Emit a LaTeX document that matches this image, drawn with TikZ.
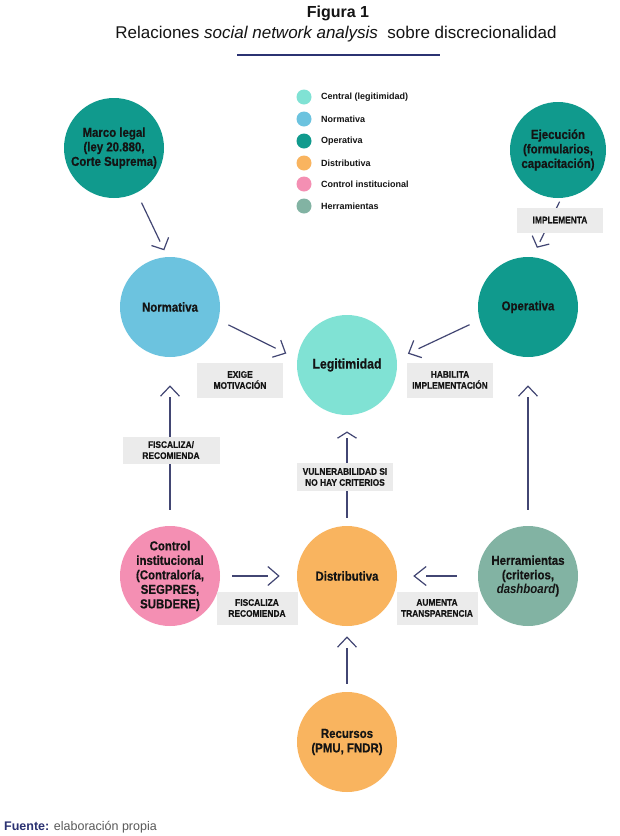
\documentclass[tikz,border=0pt]{standalone}
\usepackage{fontspec}
\setmainfont{Liberation Sans}
\newfontfamily\condf[FakeStretch=0.88, BoldFeatures={FakeBold=0.5}]{Liberation Sans}
\usetikzlibrary{decorations.markings}
\definecolor{linec}{RGB}{66,70,115}
\definecolor{navyc}{RGB}{43,50,114}
\definecolor{cLeg}{RGB}{128,226,212}
\definecolor{cNorm}{RGB}{108,195,223}
\definecolor{cTeal}{RGB}{16,154,141}
\definecolor{cOrange}{RGB}{249,180,95}
\definecolor{cPink}{RGB}{244,143,179}
\definecolor{cHerr}{RGB}{130,179,163}
\definecolor{boxgray}{RGB}{235,235,235}
\definecolor{txtc}{RGB}{20,20,20}
\tikzset{
  circ/.style={circle, minimum size=100pt, inner sep=0pt, align=center, text=txtc,
    font=\condf\bfseries\fontsize{13}{14.5}\selectfont},
  lbl/.style={fill=boxgray, inner sep=0pt, align=center, text=txtc,
    font=\condf\bfseries\fontsize{9.5}{11}\selectfont},
  legdot/.style={circle, minimum size=15pt, inner sep=0pt},
  legtxt/.style={anchor=west, inner sep=0pt, text=txtc, font=\bfseries\fontsize{9}{10}\selectfont},
  conn/.style n args={4}{draw=linec, line width=1.2pt, shorten <=#1, shorten >=#3,
    postaction={decorate, decoration={markings, mark=at position 1 with {
      \draw[linec, line width=1.2pt, shorten <=0pt, shorten >=0pt, line join=miter]
        (-#2-#4, 9.5pt) -- (-#2, 0pt) -- (-#2-#4, -9.5pt);}}}},
}
\begin{document}
\begin{tikzpicture}[x=1pt,y=-1pt]
\useasboundingbox (0,0) rectangle (619,836);
\fill[white] (0,0) rectangle (619,836);

% title
\node[font=\bfseries\fontsize{16}{18}\selectfont, text=txtc] (title) at (338,13) {Figura 1};
\node[font=\fontsize{17}{19}\selectfont, text=txtc] (subtitle) at (336,34) {Relaciones \textit{social network analysis}\ \ sobre discrecionalidad};
\draw[navyc, line width=2pt] (237,55) -- (440,55);

% legend
\node[legdot, fill=cLeg] (d1) at (304,97) {};
\node[legdot, fill=cNorm] (d2) at (304,119) {};
\node[legdot, fill=cTeal] (d3) at (304,141) {};
\node[legdot, fill=cOrange] (d4) at (304,163) {};
\node[legdot, fill=cPink] (d5) at (304,184) {};
\node[legdot, fill=cHerr] (d6) at (304,206) {};
\node[legtxt] (t1) at (321,97) {Central (legitimidad)};
\node[legtxt] (t2) at (321,119) {Normativa};
\node[legtxt] (t3) at (321,141) {Operativa};
\node[legtxt] (t4) at (321,163) {Distributiva};
\node[legtxt] (t5) at (321,184) {Control institucional};
\node[legtxt] (t6) at (321,206) {Herramientas};

% circles
\node[circ, fill=cTeal] (marco) at (114,148) {Marco legal\\(ley 20.880,\\Corte Suprema)};
\node[circ, fill=cTeal, minimum size=96pt] (ejec) at (558,150) {Ejecución\\(formularios,\\capacitación)};
\node[circ, fill=cNorm] (norm) at (170,307) {Normativa};
\node[circ, fill=cTeal] (oper) at (528,307) {Operativa};
\node[circ, fill=cLeg, font=\condf\bfseries\fontsize{14}{15}\selectfont] (legit) at (347,365) {Legitimidad};
\node[circ, fill=cPink] (ctrl) at (170,576) {Control\\institucional\\(Contraloría,\\SEGPRES,\\SUBDERE)};
\node[circ, fill=cOrange] (distr) at (347,576) {Distributiva};
\node[circ, fill=cHerr] (herr) at (528,576) {Herramientas\\(criterios,\\\textit{dashboard})};
\node[circ, fill=cOrange] (recur) at (347,742) {Recursos\\(PMU, FNDR)};

% connectors
\draw[conn={11pt}{8pt}{17pt}{9pt}] (marco.-63) -- (norm.93);
\draw[conn={4pt}{11pt}{17pt}{8pt}] (ejec.-86) -- (oper.85);
\draw[conn={11pt}{13pt}{24pt}{10pt}] (norm.-15) -- (legit.173);
\draw[conn={11pt}{13pt}{24pt}{10pt}] (oper.195) -- (legit.7);
\draw[conn={16pt}{29pt}{40pt}{10pt}] (ctrl) -- (norm);
\draw[conn={16pt}{29pt}{40pt}{10pt}] (herr) -- (oper);
\draw[conn={8pt}{17pt}{23pt}{6pt}] (distr) -- (legit);
\draw[conn={8pt}{11pt}{22pt}{10pt}] (recur) -- (distr);
\draw[conn={12pt}{18pt}{29pt}{11pt}] (ctrl) -- (distr);
\draw[conn={21pt}{17pt}{29pt}{12pt}] (herr) -- (distr);

% labels
\node[lbl, minimum width=86pt, minimum height=25pt] (limpl) at (560,220) {IMPLEMENTA};
\node[lbl, minimum width=86pt, minimum height=35pt] (lexige) at (240,380) {EXIGE\\MOTIVACIÓN};
\node[lbl, minimum width=86pt, minimum height=35pt] (lhab) at (450,380) {HABILITA\\IMPLEMENTACIÓN};
\node[lbl, minimum width=97pt, minimum height=27pt] (lfisc1) at (171,450) {FISCALIZA/\\RECOMIENDA};
\node[lbl, minimum width=96pt, minimum height=28pt] (lvuln) at (345,477) {VULNERABILIDAD SI\\NO HAY CRITERIOS};
\node[lbl, minimum width=81pt, minimum height=33pt] (lfisc2) at (257,608) {FISCALIZA\\RECOMIENDA};
\node[lbl, minimum width=81pt, minimum height=33pt] (laum) at (437,608) {AUMENTA\\TRANSPARENCIA};

% footer
\node[anchor=base west, inner sep=0pt, font=\fontsize{12.5}{14}\selectfont, text=black!65] (foot) at (4,830) {\textcolor{navyc}{\bfseries Fuente:} elaboración propia};
\end{tikzpicture}
\end{document}
